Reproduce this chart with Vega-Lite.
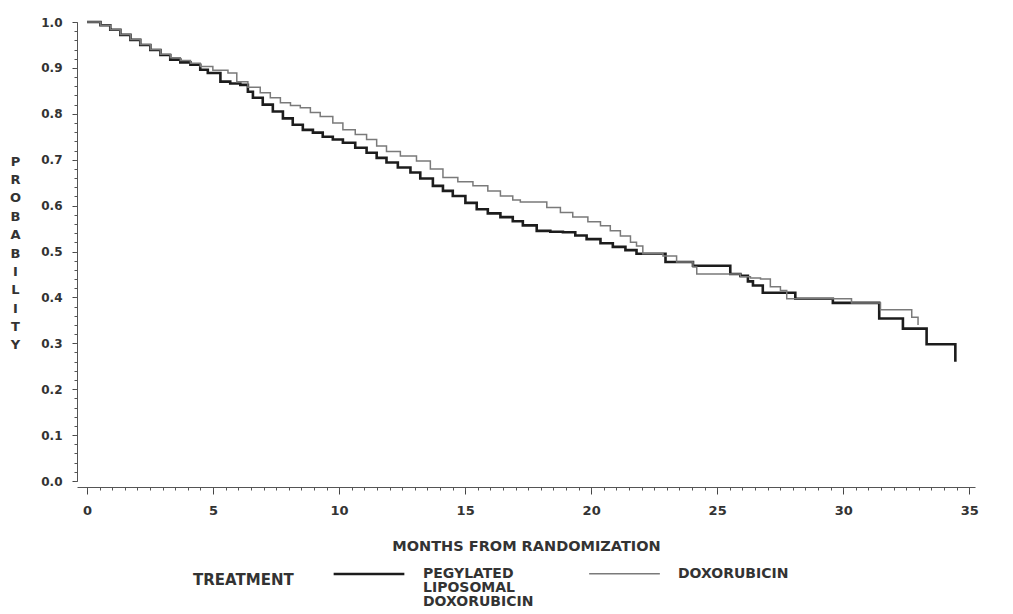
{
  "$schema": "https://vega.github.io/schema/vega-lite/v6.json",
  "width": 898,
  "height": 459,
  "autosize": "none",
  "padding": {"left": 77, "top": 22, "right": 38, "bottom": 133},
  "background": "white",
  "datasets": {
    "pld": [
      {"month": 0, "p": 1.0}, {"month": 0.53, "p": 0.993}, {"month": 0.92, "p": 0.983}, {"month": 1.32, "p": 0.972},
      {"month": 1.72, "p": 0.961}, {"month": 2.11, "p": 0.95}, {"month": 2.51, "p": 0.939}, {"month": 2.91, "p": 0.928},
      {"month": 3.3, "p": 0.918}, {"month": 3.7, "p": 0.912}, {"month": 4.1, "p": 0.907}, {"month": 4.49, "p": 0.896},
      {"month": 4.79, "p": 0.889}, {"month": 5.29, "p": 0.87}, {"month": 5.68, "p": 0.866}, {"month": 6.08, "p": 0.863},
      {"month": 6.38, "p": 0.848}, {"month": 6.58, "p": 0.835}, {"month": 6.97, "p": 0.82}, {"month": 7.37, "p": 0.805},
      {"month": 7.77, "p": 0.79}, {"month": 8.16, "p": 0.776}, {"month": 8.56, "p": 0.765}, {"month": 8.96, "p": 0.759},
      {"month": 9.35, "p": 0.75}, {"month": 9.75, "p": 0.744}, {"month": 10.15, "p": 0.737}, {"month": 10.64, "p": 0.726},
      {"month": 11.09, "p": 0.715}, {"month": 11.49, "p": 0.704}, {"month": 11.88, "p": 0.694}, {"month": 12.33, "p": 0.683},
      {"month": 12.83, "p": 0.672}, {"month": 13.22, "p": 0.659}, {"month": 13.72, "p": 0.643}, {"month": 14.12, "p": 0.632},
      {"month": 14.51, "p": 0.621}, {"month": 15.01, "p": 0.606}, {"month": 15.46, "p": 0.592}, {"month": 15.9, "p": 0.583},
      {"month": 16.4, "p": 0.575}, {"month": 16.89, "p": 0.566}, {"month": 17.29, "p": 0.557}, {"month": 17.84, "p": 0.545},
      {"month": 18.38, "p": 0.543}, {"month": 18.88, "p": 0.542}, {"month": 19.37, "p": 0.535}, {"month": 19.82, "p": 0.527},
      {"month": 20.37, "p": 0.518}, {"month": 20.86, "p": 0.51}, {"month": 21.36, "p": 0.503}, {"month": 21.8, "p": 0.495},
      {"month": 22.95, "p": 0.477}, {"month": 24.04, "p": 0.469}, {"month": 25.52, "p": 0.451}, {"month": 25.92, "p": 0.447},
      {"month": 26.22, "p": 0.435}, {"month": 26.42, "p": 0.426}, {"month": 26.81, "p": 0.41}, {"month": 28.1, "p": 0.397},
      {"month": 29.59, "p": 0.388}, {"month": 31.43, "p": 0.354}, {"month": 32.37, "p": 0.332}, {"month": 33.31, "p": 0.298},
      {"month": 34.45, "p": 0.26}
    ],
    "dox": [
      {"month": 0, "p": 1.0}, {"month": 0.53, "p": 0.993}, {"month": 0.92, "p": 0.983}, {"month": 1.32, "p": 0.973},
      {"month": 1.72, "p": 0.962}, {"month": 2.11, "p": 0.951}, {"month": 2.51, "p": 0.94}, {"month": 2.91, "p": 0.93},
      {"month": 3.3, "p": 0.922}, {"month": 3.7, "p": 0.916}, {"month": 4.1, "p": 0.91}, {"month": 4.49, "p": 0.903},
      {"month": 4.99, "p": 0.895}, {"month": 5.59, "p": 0.889}, {"month": 5.94, "p": 0.87}, {"month": 6.38, "p": 0.858},
      {"month": 6.87, "p": 0.846}, {"month": 7.27, "p": 0.835}, {"month": 7.67, "p": 0.824}, {"month": 8.07, "p": 0.818},
      {"month": 8.46, "p": 0.813}, {"month": 8.86, "p": 0.803}, {"month": 9.25, "p": 0.794}, {"month": 9.75, "p": 0.78},
      {"month": 10.15, "p": 0.765}, {"month": 10.64, "p": 0.755}, {"month": 11.09, "p": 0.744}, {"month": 11.49, "p": 0.73},
      {"month": 11.88, "p": 0.718}, {"month": 12.43, "p": 0.708}, {"month": 13.07, "p": 0.697}, {"month": 13.62, "p": 0.68},
      {"month": 14.12, "p": 0.661}, {"month": 14.71, "p": 0.652}, {"month": 15.31, "p": 0.643}, {"month": 15.9, "p": 0.632},
      {"month": 16.4, "p": 0.621}, {"month": 16.89, "p": 0.612}, {"month": 17.19, "p": 0.608}, {"month": 18.24, "p": 0.596},
      {"month": 18.78, "p": 0.585}, {"month": 19.27, "p": 0.575}, {"month": 19.87, "p": 0.565}, {"month": 20.37, "p": 0.556},
      {"month": 20.76, "p": 0.545}, {"month": 21.16, "p": 0.534}, {"month": 21.56, "p": 0.52}, {"month": 21.8, "p": 0.512},
      {"month": 22.05, "p": 0.495}, {"month": 22.85, "p": 0.49}, {"month": 23.39, "p": 0.477}, {"month": 24.04, "p": 0.466},
      {"month": 24.19, "p": 0.451}, {"month": 25.92, "p": 0.445}, {"month": 26.32, "p": 0.442}, {"month": 26.72, "p": 0.44},
      {"month": 27.11, "p": 0.423}, {"month": 27.51, "p": 0.415}, {"month": 27.76, "p": 0.397}, {"month": 30.33, "p": 0.388},
      {"month": 31.48, "p": 0.373}, {"month": 32.72, "p": 0.357}, {"month": 32.97, "p": 0.34}
    ]
  },
  "encoding": {
    "color": {
      "field": "TREATMENT",
      "type": "nominal",
      "scale": {"domain": ["PEGYLATED LIPOSOMAL DOXORUBICIN", "DOXORUBICIN"], "range": ["#1c1c1c", "#7a7a7a"]},
      "legend": {
        "orient": "none",
        "legendX": 116,
        "legendY": 515,
        "direction": "horizontal",
        "titleOrient": "left",
        "titleAnchor": "middle",
        "titleBaseline": "top",
        "titleFont": "DejaVu Sans",
        "titleFontSize": 15,
        "titleFontWeight": "bold",
        "titleColor": "#333333",
        "titlePadding": 38,
        "symbolType": "stroke",
        "symbolSize": 5000,
        "labelFont": "DejaVu Sans",
        "labelFontSize": 14,
        "labelFontWeight": "bold",
        "labelColor": "#333333",
        "labelOffset": 17,
        "labelLimit": 400,
        "columnPadding": 52,
        "labelExpr": "datum.label == 'DOXORUBICIN' ? ['DOXORUBICIN', '', ''] : split(datum.label, ' ')"
      }
    },
    "strokeWidth": {
      "field": "TREATMENT",
      "type": "nominal",
      "scale": {"domain": ["PEGYLATED LIPOSOMAL DOXORUBICIN", "DOXORUBICIN"], "range": [2.6, 1.5]},
      "legend": {
        "orient": "none",
        "legendX": 116,
        "legendY": 515,
        "direction": "horizontal",
        "titleOrient": "left",
        "titleAnchor": "middle",
        "titleBaseline": "top",
        "titleFont": "DejaVu Sans",
        "titleFontSize": 15,
        "titleFontWeight": "bold",
        "titleColor": "#333333",
        "titlePadding": 38,
        "symbolType": "stroke",
        "symbolSize": 5000,
        "labelFont": "DejaVu Sans",
        "labelFontSize": 14,
        "labelFontWeight": "bold",
        "labelColor": "#333333",
        "labelOffset": 17,
        "labelLimit": 400,
        "columnPadding": 52,
        "labelExpr": "datum.label == 'DOXORUBICIN' ? ['DOXORUBICIN', '', ''] : split(datum.label, ' ')"
      }
    }
  },
  "layer": [
    {
      "data": {"name": "pld"},
      "transform": [{"calculate": "'PEGYLATED LIPOSOMAL DOXORUBICIN'", "as": "TREATMENT"}],
      "mark": {"type": "line", "interpolate": "step-after", "strokeJoin": "miter"},
      "encoding": {
        "x": {
          "field": "month", "type": "quantitative",
          "scale": {"domain": [-0.4, 35.23], "nice": false, "zero": false},
          "axis": {
            "orient": "bottom", "offset": 6,
            "values": [0, 5, 10, 15, 20, 25, 30, 35], "format": "d",
            "grid": false, "tickSize": 7, "tickColor": "#444444", "domainColor": "#555555",
            "labelFont": "DejaVu Sans", "labelFontWeight": "bold", "labelFontSize": 13, "labelColor": "#333333",
            "labelPadding": 10, "labelFlush": false,
            "title": "MONTHS FROM RANDOMIZATION",
            "titleFont": "DejaVu Sans", "titleFontSize": 14.5, "titleFontWeight": "bold", "titleColor": "#333333",
            "titlePadding": 22
          }
        },
        "y": {
          "field": "p", "type": "quantitative",
          "scale": {"domain": [0, 1], "nice": false},
          "axis": {
            "orient": "left",
            "values": [0, 0.1, 0.2, 0.3, 0.4, 0.5, 0.6, 0.7, 0.8, 0.9, 1.0], "format": ".1f",
            "grid": false, "tickSize": 5, "tickColor": "#444444", "domainColor": "#555555",
            "labelFont": "DejaVu Sans", "labelFontWeight": "bold", "labelFontSize": 12, "labelColor": "#333333",
            "labelPadding": 10,
            "title": ["P", "R", "O", "B", "A", "B", "I", "L", "I", "T", "Y"],
            "titleAngle": 0, "titleX": -62, "titleY": 139, "titleAlign": "center", "titleBaseline": "middle",
            "titleLineHeight": 18.4,
            "titleFont": "DejaVu Sans", "titleFontSize": 13, "titleFontWeight": "bold", "titleColor": "#333333"
          }
        }
      }
    },
    {
      "data": {"name": "dox"},
      "transform": [{"calculate": "'DOXORUBICIN'", "as": "TREATMENT"}],
      "mark": {"type": "line", "interpolate": "step-after", "strokeJoin": "miter"},
      "encoding": {
        "x": {
          "field": "month", "type": "quantitative",
          "axis": {
            "orient": "bottom", "offset": 6,
            "values": [0,0.5,1,1.5,2,2.5,3,3.5,4,4.5,5,5.5,6,6.5,7,7.5,8,8.5,9,9.5,10,10.5,11,11.5,12,12.5,13,13.5,14,14.5,15,15.5,16,16.5,17,17.5,18,18.5,19,19.5,20,20.5,21,21.5,22,22.5,23,23.5,24,24.5,25,25.5,26,26.5,27,27.5,28,28.5,29,29.5,30,30.5,31,31.5,32,32.5,33,33.5,34,34.5,35],
            "labels": false, "domain": false, "grid": false, "tickSize": 3, "tickColor": "#555555", "title": null
          }
        },
        "y": {
          "field": "p", "type": "quantitative",
          "axis": {
            "orient": "left",
            "values": [0,0.02,0.04,0.06,0.08,0.1,0.12,0.14,0.16,0.18,0.2,0.22,0.24,0.26,0.28,0.3,0.32,0.34,0.36,0.38,0.4,0.42,0.44,0.46,0.48,0.5,0.52,0.54,0.56,0.58,0.6,0.62,0.64,0.66,0.68,0.7,0.72,0.74,0.76,0.78,0.8,0.82,0.84,0.86,0.88,0.9,0.92,0.94,0.96,0.98,1.0],
            "labels": false, "domain": false, "grid": false, "tickSize": 3, "tickColor": "#555555", "title": null
          }
        }
      }
    }
  ],
  "resolve": {"axis": {"x": "independent", "y": "independent"}},
  "config": {
    "view": {"stroke": null},
    "style": {"guide-label": {"lineHeight": 14}}
  }
}
